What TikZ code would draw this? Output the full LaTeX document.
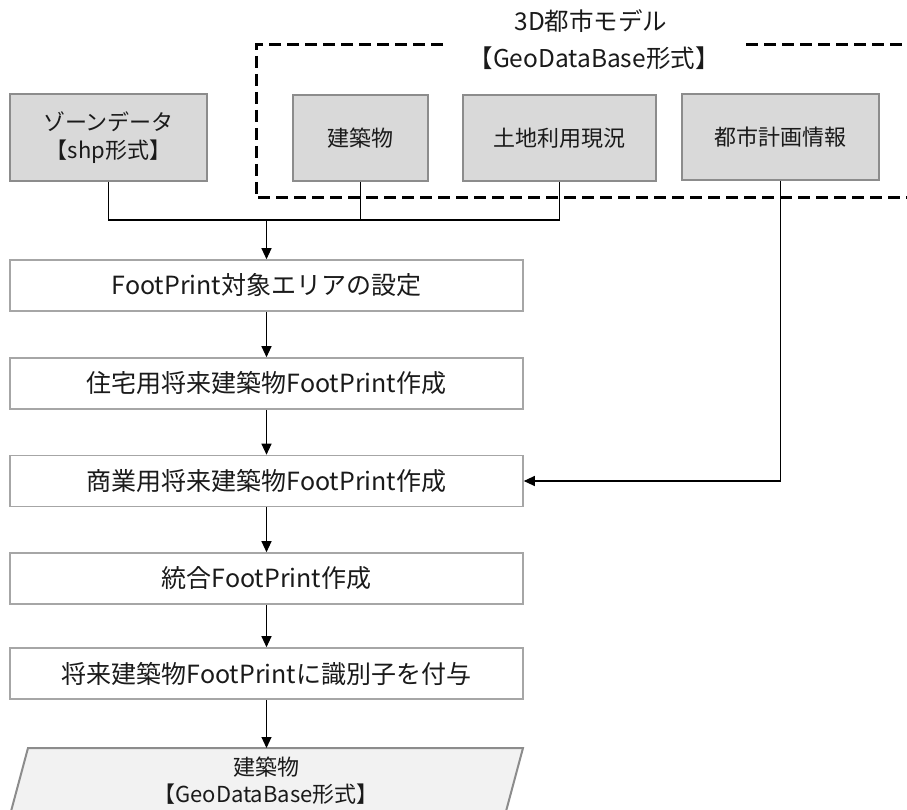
\documentclass[tikz,border=0pt]{standalone}
\usepackage{fontspec}
\setmainfont{Noto Sans CJK JP}
\usetikzlibrary{arrows.meta}
\definecolor{txt}{HTML}{1A1A1A}
\definecolor{srcfill}{HTML}{D9D9D9}
\definecolor{srcborder}{HTML}{8C8C8C}
\definecolor{procborder}{HTML}{A6A6A6}
\definecolor{outfill}{HTML}{F2F2F2}
\begin{document}
\begin{tikzpicture}[x=1pt,y=-1pt,
  font=\fontsize{22}{28}\selectfont, text=txt,
  src/.style={draw=srcborder, line width=2pt, fill=srcfill, inner sep=0pt, align=center},
  proc/.style={draw=procborder, line width=1.6pt, fill=white, minimum width=513pt, minimum height=51pt, inner sep=0pt,
    font=\fontsize{25}{30}\selectfont},
  title/.style={font=\fontsize{24.5}{30}\selectfont},
  conn/.style={line width=1.1pt, draw=black},
  arr/.style={conn, -{Triangle[length=11pt,width=10pt]}},
  dashbox/.style={line width=3pt, dash pattern=on 12pt off 6pt, draw=black}]
\useasboundingbox (0,0) rectangle (907,810);

% dashed group
\draw[dashbox] (443,45) -- (256,45) -- (256,198) -- (925,198);
\draw[dashbox] (746,45) -- (925,45);
\node[title] (t1) at (591,21) {3D都市モデル};
\node[title] (t2) at (594,58) {【GeoDataBase形式】};

% source boxes
\node[src, minimum width=197pt, minimum height=87pt] (zone) at (108.5,137.5)
  {ゾーンデータ\\【shp形式】};
\node[src, minimum width=135pt, minimum height=86pt] (bld) at (360.5,138) {建築物};
\node[src, minimum width=193pt, minimum height=86pt] (land) at (559.5,138) {土地利用現況};
\node[src, minimum width=197pt, minimum height=86pt] (plan) at (780.5,137) {都市計画情報};

% process boxes
\node[proc] (p1) at (266.5,285.5) {FootPrint対象エリアの設定};
\node[proc] (p2) at (266.5,383.5) {住宅用将来建築物FootPrint作成};
\node[proc] (p3) at (266.5,481) {商業用将来建築物FootPrint作成};
\node[proc] (p4) at (266.5,578.5) {統合FootPrint作成};
\node[proc] (p5) at (266.5,673.5) {将来建築物FootPrintに識別子を付与};

% output parallelogram
\draw[draw=srcborder, line width=2pt, fill=outfill]
  (28,748) -- (523,748) -- (501,830) -- (6,830) -- cycle;
\node[align=center, font=\fontsize{22}{27}\selectfont] (out) at (266,781)
  {建築物\\【GeoDataBase形式】};
\coordinate (outtop) at (266.5,748);

% connectors
\coordinate (j) at (266.5,220);
\draw[conn] (zone.south) |- (land.south |- j) -- (land.south);
\draw[conn] (bld.south) -- (bld.south |- j);
\draw[arr] (j) -- (p1.north);
\draw[arr] (p1.south) -- (p2.north);
\draw[arr] (p2.south) -- (p3.north);
\draw[arr] (p3.south) -- (p4.north);
\draw[arr] (p4.south) -- (p5.north);
\draw[arr] (p5.south) -- (outtop);
\draw[arr] (plan.south) |- (p3.east);
\end{tikzpicture}
\end{document}
